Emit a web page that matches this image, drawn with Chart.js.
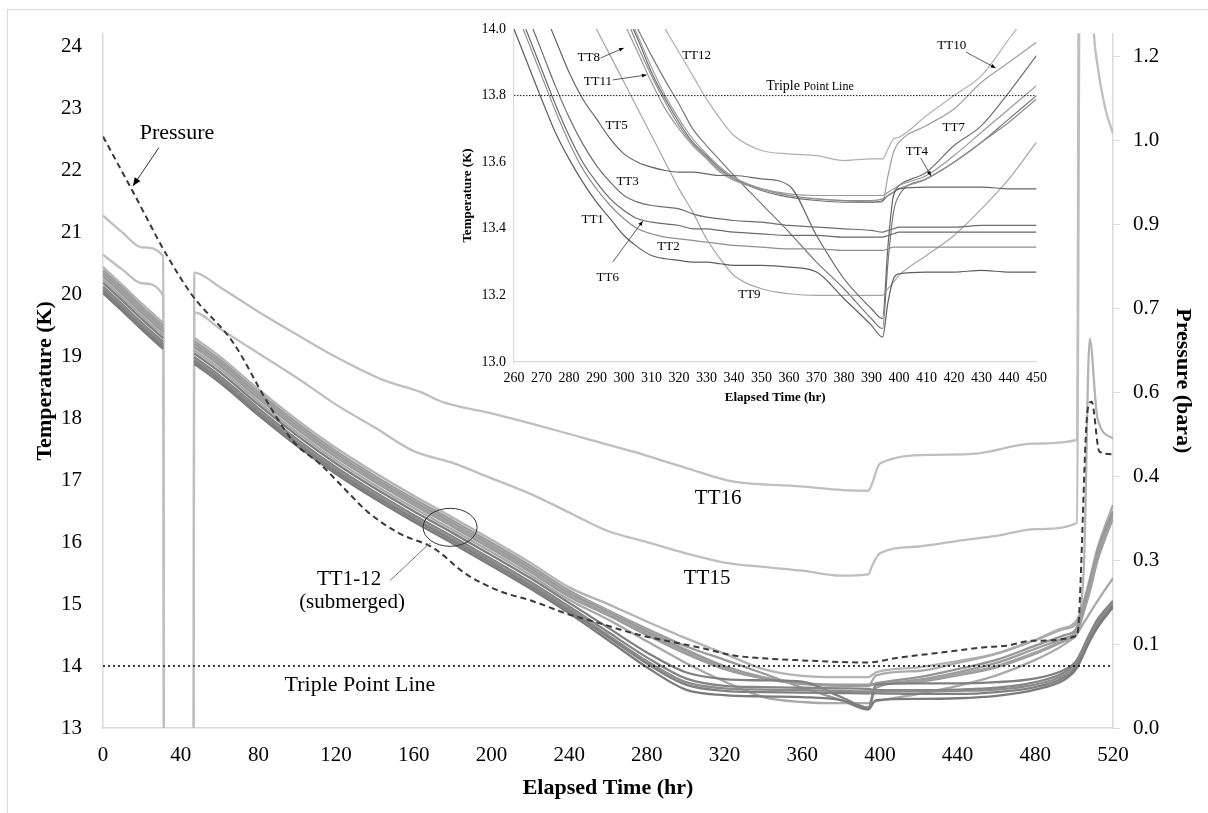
<!DOCTYPE html>
<html>
<head>
<meta charset="utf-8">
<script src="https://cdn.jsdelivr.net/npm/chart.js@4.4.1/dist/chart.umd.min.js"></script>
<style>
  html, body { margin: 0; padding: 0; background: #fff; }
  #wrap { position: relative; width: 1208px; height: 813px; overflow: hidden; }
  #frame { position: absolute; left: 7px; top: 9px; width: 1230px; height: 840px; border: 1px solid #d9d9d9; }
  #main { position: absolute; left: 0; top: 0; }
  #inset { position: absolute; left: 455px; top: 10px; }
</style>
</head>
<body>
<div id="wrap">
  <div id="frame"></div>
  <canvas id="main" width="1208" height="813"></canvas>
  <canvas id="inset" width="600" height="405"></canvas>
</div>
<script>
// ---------- main chart data (hr, K, bara) ----------
const mainHr = [0, 10, 20, 31, 39, 47, 60, 80, 100, 120, 140, 160, 180, 200, 220, 240,
                260, 280, 300, 320, 340, 360, 380, 394, 398, 420, 440, 460, 480, 495, 501, 505, 508, 512, 520];

const tt1Main  = [20.02,19.73,19.43,19.12,null,18.88,18.58,18.05,17.55,17.10,16.70,16.33,15.98,15.62,15.25,14.85,
                  14.42,13.98,13.62,13.53,13.51,13.50,13.45,13.30,13.45,13.47,13.48,13.52,13.62,13.78,13.95,14.20,14.40,14.62,14.95];
const tt2Main  = [20.06,19.77,19.47,19.16,null,18.92,18.62,18.09,17.59,17.14,16.74,16.37,16.02,15.66,15.29,14.89,
                  14.47,14.04,13.70,13.60,13.58,13.57,13.565,13.56,13.56,13.55,13.55,13.58,13.66,13.82,13.98,14.23,14.43,14.65,14.98];
const tt6Main  = [20.09,19.80,19.50,19.19,null,18.95,18.65,18.12,17.62,17.17,16.77,16.40,16.05,15.69,15.32,14.92,
                  14.50,14.08,13.74,13.64,13.62,13.61,13.60,13.59,13.59,13.59,13.60,13.62,13.70,13.86,14.02,14.27,14.47,14.68,15.02];
const tt3Main  = [20.13,19.84,19.54,19.23,null,18.99,18.69,18.16,17.66,17.21,16.81,16.44,16.09,15.73,15.36,14.96,
                  14.55,14.14,13.80,13.68,13.66,13.65,13.64,13.63,13.61,13.61,13.62,13.65,13.74,13.90,14.06,14.30,14.50,14.72,15.05];
const tt5Main  = [20.19,19.90,19.60,19.29,null,19.05,18.75,18.22,17.72,17.27,16.87,16.50,16.15,15.79,15.42,15.02,
                  14.62,14.22,13.90,13.79,13.77,13.75,13.50,13.33,13.70,13.72,13.72,13.74,13.80,13.94,14.08,14.32,14.52,14.75,15.05];
const tt9Main  = [20.24,19.95,19.65,19.34,null,19.10,18.80,18.27,17.77,17.32,16.92,16.55,16.20,15.84,15.47,15.07,
                  14.75,14.40,14.05,13.75,13.50,13.42,13.40,13.40,13.43,13.55,13.68,13.85,14.10,14.35,14.50,14.70,14.85,15.05,15.42];
const tt8Main  = [20.29,20.00,19.70,19.39,null,19.15,18.85,18.32,17.82,17.37,16.97,16.60,16.25,15.89,15.52,15.12,
                  14.82,14.50,14.20,13.95,13.80,13.72,13.70,13.70,13.71,13.78,13.90,14.05,14.28,14.45,14.55,14.95,15.30,15.80,16.45];
const tt11Main = [20.32,20.03,19.73,19.42,null,19.18,18.88,18.35,17.85,17.40,17.00,16.63,16.28,15.92,15.55,15.15,
                  14.85,14.53,14.23,13.97,13.80,13.71,13.69,13.69,13.70,13.76,13.87,14.00,14.22,14.42,14.52,14.90,15.25,15.75,16.40];
const tt7Main  = [20.34,20.05,19.75,19.44,null,19.20,18.90,18.37,17.87,17.42,17.02,16.65,16.30,15.94,15.57,15.17,
                  14.87,14.55,14.25,13.99,13.81,13.72,13.68,13.68,13.72,13.82,13.95,14.10,14.33,14.50,14.60,15.00,15.35,15.85,16.50];
const tt10Main = [20.36,20.07,19.77,19.46,null,19.22,18.92,18.39,17.89,17.44,17.04,16.67,16.32,15.96,15.59,15.19,
                  14.89,14.57,14.27,14.00,13.82,13.73,13.69,13.68,13.85,13.92,14.05,14.20,14.42,14.60,14.68,15.05,15.40,15.90,16.60];
const tt4Main  = [20.39,20.10,19.80,19.49,null,19.25,18.95,18.42,17.92,17.47,17.07,16.70,16.35,15.99,15.62,15.22,
                  14.90,14.60,14.32,14.10,13.88,13.65,13.45,13.30,13.65,13.75,13.85,13.98,14.20,14.40,14.50,14.88,15.20,15.70,16.39];
const tt12Main = [20.44,20.15,19.85,19.54,null,19.30,19.00,18.47,17.97,17.52,17.12,16.75,16.40,16.04,15.67,15.27,
                  15.00,14.72,14.45,14.20,13.95,13.84,13.82,13.82,13.90,13.98,14.08,14.20,14.42,14.62,14.73,15.60,19.28,18.00,17.67];

const tt16Hr  = [0, 10, 20, 31, 31.5, 46.5, 47, 60, 80, 96, 118, 144, 163, 175, 200, 221, 250, 273, 300, 324,
                 359, 381, 394, 396, 400, 427, 450, 479, 501.5, 502.5, 508, 510, 512, 516, 520];
const tt16Val = [21.27, 21.0, 20.76, 20.62, 10, 10, 20.35, 20.12, 19.72, 19.42, 19.02, 18.62, 18.43, 18.26, 18.08, 17.91, 17.66, 17.46, 17.2, 16.98,
                 16.9, 16.84, 16.83, 16.95, 17.27, 17.41, 17.43, 17.59, 17.65, 26, 26, 24.3, 23.7, 23.0, 22.6];

const tt15Hr  = [0, 10, 20, 31, 31.5, 46.5, 47, 60, 80, 100, 120, 140, 160, 180, 200, 220, 240, 260, 280, 300,
                 320, 340, 360, 380, 394, 396, 400, 420, 440, 460, 480, 501.5, 503, 520];
const tt15Val = [20.64, 20.4, 20.18, 19.98, 10, 10, 19.71, 19.45, 19.05, 18.65, 18.22, 17.85, 17.47, 17.28, 17.03, 16.78, 16.48, 16.18, 16.0, 15.82,
                 15.67, 15.6, 15.54, 15.46, 15.48, 15.62, 15.82, 15.93, 16.02, 16.1, 16.21, 16.31, 26, 26];

const presHr  = [0, 15, 33, 46, 67, 84.5, 98, 112, 127, 136, 153, 170, 187, 204, 221, 239, 256, 273, 290, 307,
                 324, 342, 359, 393, 410, 427, 453, 465, 479, 501.5, 507, 509, 513, 520];
const presVal = [1.057, 0.961, 0.844, 0.773, 0.689, 0.583, 0.512, 0.471, 0.418, 0.387, 0.347, 0.322, 0.275, 0.245, 0.227, 0.204, 0.187, 0.169, 0.156, 0.144,
                 0.130, 0.124, 0.121, 0.117, 0.126, 0.133, 0.144, 0.147, 0.156, 0.165, 0.570, 0.583, 0.494, 0.489];

const triplePoint = 14;
const tempTicks = [13, 14, 15, 16, 17, 18, 19, 20, 21, 22, 23, 24];
const presTicks = [0, 0.15, 0.3, 0.45, 0.6, 0.75, 0.9, 1.05, 1.2];
const presTickLabels = ['0.0', '0.1', '0.3', '0.4', '0.6', '0.7', '0.9', '1.0', '1.2'];

// ---------- inset data (hr, K) ----------
const insetHr = [260, 265, 270, 275, 280, 285, 290, 295, 300, 305, 310, 315, 320, 325, 330, 335, 340,
                 350, 360, 370, 380, 390, 394, 396, 398, 400, 410, 420, 430, 440, 450];

const tt1In  = [14.00,13.895,13.79,13.69,13.61,13.54,13.48,13.43,13.38,13.345,13.32,13.31,13.305,13.30,13.30,13.295,13.29,
                13.29,13.285,13.27,13.19,13.11,13.075,13.18,13.25,13.265,13.27,13.27,13.275,13.27,13.27];
const tt2In  = [14.07,13.965,13.86,13.755,13.66,13.58,13.52,13.47,13.43,13.40,13.385,13.375,13.37,13.365,13.36,13.355,13.35,
                13.345,13.34,13.34,13.335,13.335,13.335,13.34,13.345,13.345,13.345,13.345,13.345,13.345,13.345];
const tt6In  = [14.09,13.985,13.88,13.775,13.68,13.60,13.54,13.49,13.455,13.43,13.42,13.415,13.41,13.40,13.40,13.395,13.39,
                13.385,13.38,13.38,13.375,13.375,13.375,13.38,13.385,13.39,13.39,13.39,13.39,13.39,13.39];
const tt3In  = [14.145,14.04,13.935,13.83,13.735,13.655,13.59,13.54,13.50,13.48,13.47,13.465,13.46,13.445,13.435,13.43,13.425,
                13.42,13.41,13.405,13.40,13.395,13.39,13.395,13.40,13.405,13.405,13.405,13.41,13.41,13.41];
const tt5In  = [14.28,14.18,14.07,13.97,13.87,13.79,13.73,13.67,13.625,13.60,13.585,13.575,13.57,13.57,13.565,13.56,13.56,
                13.55,13.53,13.38,13.25,13.16,13.13,13.35,13.50,13.52,13.525,13.525,13.525,13.52,13.52];
const tt9In  = [14.48,14.40,14.32,14.24,14.16,14.08,14.00,13.92,13.84,13.76,13.68,13.60,13.52,13.45,13.37,13.31,13.26,
                13.22,13.205,13.20,13.20,13.20,13.20,13.22,13.24,13.26,13.32,13.38,13.46,13.55,13.66];
const tt8In  = [14.86,14.75,14.65,14.54,14.44,14.33,14.23,14.125,14.02,13.93,13.84,13.76,13.70,13.65,13.61,13.57,13.545,
                13.52,13.505,13.50,13.50,13.50,13.50,13.51,13.52,13.53,13.56,13.62,13.69,13.76,13.83];
const tt11In = [14.89,14.78,14.68,14.57,14.47,14.36,14.26,14.155,14.05,13.95,13.86,13.78,13.71,13.655,13.615,13.575,13.55,
                13.52,13.50,13.49,13.485,13.485,13.49,13.50,13.51,13.52,13.55,13.60,13.66,13.72,13.79];
const tt7In  = [14.90,14.79,14.69,14.58,14.48,14.37,14.27,14.165,14.06,13.97,13.87,13.79,13.72,13.66,13.62,13.58,13.55,
                13.515,13.495,13.485,13.48,13.48,13.485,13.50,13.51,13.53,13.57,13.65,13.71,13.81,13.92];
const tt10In = [14.91,14.80,14.70,14.59,14.49,14.38,14.28,14.175,14.07,13.98,13.885,13.80,13.73,13.67,13.625,13.585,13.555,
                13.52,13.50,13.49,13.485,13.48,13.48,13.56,13.63,13.66,13.71,13.76,13.84,13.90,13.96];
const tt4In  = [14.72,14.64,14.56,14.48,14.40,14.32,14.24,14.16,14.08,14.00,13.92,13.845,13.775,13.70,13.65,13.605,13.56,
                13.475,13.39,13.30,13.22,13.13,13.10,13.30,13.45,13.50,13.55,13.60,13.66,13.73,13.80];
const tt12In = [14.80,14.73,14.65,14.58,14.51,14.44,14.36,14.29,14.22,14.15,14.08,14.00,13.93,13.86,13.79,13.73,13.68,
                13.635,13.625,13.62,13.605,13.61,13.61,13.64,13.67,13.675,13.74,13.80,13.86,13.97,14.08];

const insetTriple = 13.8;

// ---------- helpers ----------
Chart.defaults.font.family = '"Liberation Serif", "Times New Roman", serif';
Chart.defaults.color = '#000';

const pts = (hrs, vals) => hrs.map((h, i) => ({ x: h, y: vals[i] }));

function arrow(ctx, x1, y1, x2, y2, head) {
  const a = Math.atan2(y2 - y1, x2 - x1);
  ctx.beginPath();
  ctx.moveTo(x1, y1);
  ctx.lineTo(x2, y2);
  ctx.stroke();
  ctx.beginPath();
  ctx.moveTo(x2, y2);
  ctx.lineTo(x2 - head * Math.cos(a - 0.4), y2 - head * Math.sin(a - 0.4));
  ctx.lineTo(x2 - head * Math.cos(a + 0.4), y2 - head * Math.sin(a + 0.4));
  ctx.closePath();
  ctx.fill();
}

function ttLine(label, vals, hrs, color, width) {
  return { label, data: pts(hrs, vals), borderColor: color, borderWidth: width, yAxisID: 'yT', spanGaps: false };
}

// ---------- main chart ----------
const mainSets = [
  { label: 'Pressure', data: pts(presHr, presVal), yAxisID: 'yP', borderColor: '#3a3a3a', borderWidth: 2, borderDash: [6, 4] },
  { label: 'Triple Point Line', data: pts([0, 520], [triplePoint, triplePoint]), yAxisID: 'yT', borderColor: '#000', borderWidth: 1.6, borderDash: [2, 3] },
  ttLine('TT1', tt1Main, mainHr, '#7b7b7b', 2.3),
  ttLine('TT2', tt2Main, mainHr, '#808080', 2.3),
  ttLine('TT6', tt6Main, mainHr, '#8c8c8c', 2.3),
  ttLine('TT3', tt3Main, mainHr, '#858585', 2.3),
  ttLine('TT5', tt5Main, mainHr, '#7f7f7f', 2.3),
  ttLine('TT9', tt9Main, mainHr, '#a8a8a8', 2.3),
  ttLine('TT8', tt8Main, mainHr, '#9c9c9c', 2.3),
  ttLine('TT11', tt11Main, mainHr, '#a3a3a3', 2.3),
  ttLine('TT7', tt7Main, mainHr, '#959595', 2.3),
  ttLine('TT10', tt10Main, mainHr, '#aaaaaa', 2.3),
  ttLine('TT4', tt4Main, mainHr, '#999999', 2.3),
  ttLine('TT12', tt12Main, mainHr, '#b3b3b3', 2.3),
  ttLine('TT15', tt15Val, tt15Hr, '#bfbfbf', 2.3),
  ttLine('TT16', tt16Val, tt16Hr, '#bfbfbf', 2.3)
];

// text notes placed at data coordinates
const mainNotes = [
  { text: 'Pressure', x: 38.1, y: 22.6, size: 22 },
  { text: 'Triple Point Line', x: 132.3, y: 13.69, size: 22 },
  { text: 'TT16', x: 316.7, y: 16.71, size: 21 },
  { text: 'TT15', x: 311, y: 15.42, size: 21 },
  { text: 'TT1-12', x: 126.7, y: 15.39, size: 21 },
  { text: '(submerged)', x: 128.2, y: 15.02, size: 21 }
];

const mainDecor = {
  id: 'mainDecor',
  afterDatasetsDraw(chart) {
    const { ctx, scales: { x, yT } } = chart;
    const X = h => x.getPixelForValue(h);
    const Y = k => yT.getPixelForValue(k);
    ctx.save();
    ctx.fillStyle = '#000';
    ctx.textAlign = 'center';
    ctx.textBaseline = 'middle';
    mainNotes.forEach(n => {
      ctx.font = n.size + 'px "Liberation Serif"';
      ctx.fillText(n.text, X(n.x), Y(n.y));
    });
    // ellipse round the submerged bundle
    ctx.strokeStyle = '#333';
    ctx.lineWidth = 1;
    ctx.beginPath();
    ctx.ellipse(X(178.7), Y(16.24), 27, 19, 0, 0, 2 * Math.PI);
    ctx.stroke();
    ctx.strokeStyle = '#777';
    ctx.beginPath();
    ctx.moveTo(X(147.8), Y(15.38));
    ctx.lineTo(X(168.4), Y(15.99));
    ctx.stroke();
    // pressure arrow
    ctx.strokeStyle = '#333';
    ctx.fillStyle = '#000';
    arrow(ctx, X(28.8), Y(22.37), X(15.4), Y(21.75), 9);
    ctx.restore();
  }
};

new Chart(document.getElementById('main'), {
  type: 'line',
  data: { datasets: mainSets },
  options: {
    responsive: false,
    animation: false,
    layout: { padding: { top: 30, left: 0, right: 0, bottom: 0 } },
    plugins: { legend: { display: false }, tooltip: { enabled: false } },
    elements: { point: { radius: 0 }, line: { cubicInterpolationMode: 'monotone' } },
    scales: {
      x: {
        type: 'linear', min: 0, max: 520,
        ticks: { stepSize: 40, font: { size: 21 }, color: '#000', padding: 15, maxRotation: 0 },
        grid: { display: false, drawTicks: false },
        border: { color: '#d9d9d9', width: 1.5 },
        title: { display: true, text: 'Elapsed Time (hr)', font: { size: 22, weight: 'bold' }, color: '#000', padding: { top: 0, bottom: 11 } },
        afterFit: s => { s.height = 85; }
      },
      yT: {
        type: 'linear', position: 'left', min: 13, max: 24.21,
        afterBuildTicks: s => { s.ticks = tempTicks.map(v => ({ value: v })); },
        ticks: { font: { size: 21 }, color: '#000', padding: 21 },
        grid: { display: false, drawTicks: false },
        border: { color: '#d9d9d9', width: 1.5 },
        title: { display: true, text: 'Temperature (K)', font: { size: 22, weight: 'bold' }, color: '#000', padding: { top: 32, bottom: 0 } },
        afterFit: s => { s.width = 103; }
      },
      yP: {
        type: 'linear', position: 'right', min: 0, max: 1.241,
        afterBuildTicks: s => { s.ticks = presTicks.map(v => ({ value: v })); },
        ticks: { font: { size: 21 }, color: '#000', padding: 13, callback: (v, i) => presTickLabels[i] },
        grid: { drawOnChartArea: false, drawTicks: true, tickLength: 7, color: '#d9d9d9' },
        border: { color: '#d9d9d9', width: 1.5 },
        title: { display: true, text: 'Pressure (bara)', font: { size: 22, weight: 'bold' }, color: '#000', padding: { top: 12, bottom: 0 } },
        afterFit: s => { s.width = 95; }
      }
    }
  },
  plugins: [mainDecor]
});

// ---------- inset chart ----------
const insetSets = [
  { label: 'Triple Point Line', data: pts([260, 450], [insetTriple, insetTriple]), borderColor: '#000', borderWidth: 0.9, borderDash: [1.5, 1.5] },
  { label: 'TT1', data: pts(insetHr, tt1In), borderColor: '#5e5e5e' },
  { label: 'TT2', data: pts(insetHr, tt2In), borderColor: '#8f8f8f' },
  { label: 'TT6', data: pts(insetHr, tt6In), borderColor: '#6a6a6a' },
  { label: 'TT3', data: pts(insetHr, tt3In), borderColor: '#6e6e6e' },
  { label: 'TT5', data: pts(insetHr, tt5In), borderColor: '#666666' },
  { label: 'TT9', data: pts(insetHr, tt9In), borderColor: '#a6a6a6' },
  { label: 'TT8', data: pts(insetHr, tt8In), borderColor: '#9a9a9a' },
  { label: 'TT11', data: pts(insetHr, tt11In), borderColor: '#8f8f8f' },
  { label: 'TT7', data: pts(insetHr, tt7In), borderColor: '#707070' },
  { label: 'TT10', data: pts(insetHr, tt10In), borderColor: '#a0a0a0' },
  { label: 'TT4', data: pts(insetHr, tt4In), borderColor: '#7a7a7a' },
  { label: 'TT12', data: pts(insetHr, tt12In), borderColor: '#b0b0b0' }
];

const insetNotes = [
  { text: 'TT8', x: 287.2, y: 13.913 },
  { text: 'TT11', x: 290.5, y: 13.841 },
  { text: 'TT12', x: 326.4, y: 13.919 },
  { text: 'TT5', x: 297.3, y: 13.709 },
  { text: 'TT3', x: 301.3, y: 13.541 },
  { text: 'TT1', x: 288.6, y: 13.429 },
  { text: 'TT6', x: 294.1, y: 13.255 },
  { text: 'TT2', x: 316.2, y: 13.348 },
  { text: 'TT9', x: 345.6, y: 13.201 },
  { text: 'TT10', x: 419.2, y: 13.949 },
  { text: 'TT7', x: 419.9, y: 13.703 },
  { text: 'TT4', x: 406.5, y: 13.631 }
];
const insetArrows = [
  [291.5, 13.913, 299.9, 13.943],
  [295.9, 13.847, 308.2, 13.862],
  [295.9, 13.300, 306.8, 13.423],
  [424.3, 13.931, 435.1, 13.883],
  [407.9, 13.613, 411.6, 13.559]
];

const insetDecor = {
  id: 'insetDecor',
  afterDatasetsDraw(chart) {
    const { ctx, scales: { x, y } } = chart;
    const X = h => x.getPixelForValue(h);
    const Y = k => y.getPixelForValue(k);
    ctx.save();
    ctx.fillStyle = '#000';
    ctx.textAlign = 'center';
    ctx.textBaseline = 'middle';
    ctx.font = '13px "Liberation Serif"';
    insetNotes.forEach(n => ctx.fillText(n.text, X(n.x), Y(n.y)));
    ctx.strokeStyle = '#333';
    ctx.lineWidth = 0.8;
    insetArrows.forEach(a => arrow(ctx, X(a[0]), Y(a[1]), X(a[2]), Y(a[3]), 5));
    // triple point label
    ctx.textAlign = 'left';
    ctx.font = '14px "Liberation Serif"';
    const x0 = X(351.7), y0 = Y(13.829);
    ctx.fillText('Triple', x0, y0);
    const w = ctx.measureText('Triple ').width;
    ctx.font = '12px "Liberation Serif"';
    ctx.fillText('Point Line', x0 + w, y0 + 1);
    ctx.restore();
  }
};

new Chart(document.getElementById('inset'), {
  type: 'line',
  data: { datasets: insetSets },
  options: {
    responsive: false,
    animation: false,
    layout: { padding: { top: 19, right: 17, left: 0, bottom: 0 } },
    plugins: { legend: { display: false }, tooltip: { enabled: false } },
    elements: { point: { radius: 0 }, line: { cubicInterpolationMode: 'monotone', borderWidth: 1.2 } },
    scales: {
      x: {
        type: 'linear', min: 260, max: 450,
        ticks: { stepSize: 10, font: { size: 14 }, color: '#000', padding: 8, maxRotation: 0, autoSkip: false },
        grid: { display: false, drawTicks: false },
        border: { color: '#d9d9d9', width: 1.2 },
        title: { display: true, text: 'Elapsed Time (hr)', font: { size: 13, weight: 'bold' }, color: '#000', padding: { top: 0, bottom: 10 } },
        afterFit: s => { s.height = 53; }
      },
      y: {
        type: 'linear', min: 13, max: 14,
        ticks: { stepSize: 0.2, font: { size: 14 }, color: '#000', padding: 8, callback: v => v.toFixed(1) },
        grid: { display: false, drawTicks: false },
        border: { color: '#d9d9d9', width: 1.2 },
        title: { display: true, text: 'Temperature (K)', font: { size: 13, weight: 'bold' }, color: '#000', padding: { top: 5, bottom: 0 } },
        afterFit: s => { s.width = 59; }
      }
    }
  },
  plugins: [insetDecor]
});
</script>
</body>
</html>
